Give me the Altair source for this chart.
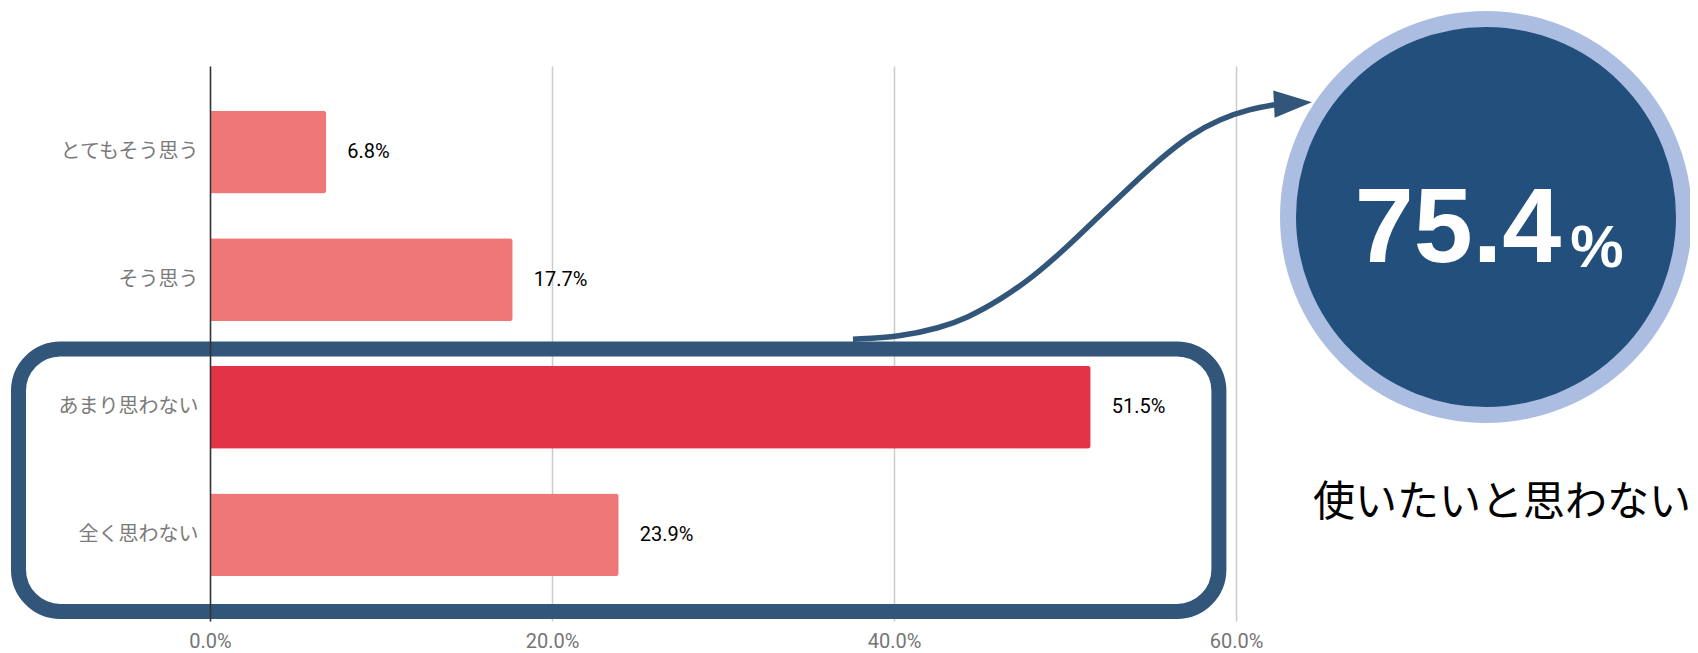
import altair as alt
import pandas as pd

# ---------------- data ----------------
categories = ["とてもそう思う", "そう思う", "あまり思わない", "全く思わない"]
values = [6.8, 17.7, 51.5, 23.9]
highlight = [False, False, True, False]
x_ticks = [0, 20, 40, 60]

summary_value = "75.4"
summary_unit = "%"
summary_caption = "使いたいと思わない"

# annotation anchors, in data units: x in percent, y in "rows" (0 = centre of first category)
box_x = [-11.2, 59.0]
box_y = [1.543, 3.60]
circle_x, circle_y = 74.62, 0.5085
value_x, value_y = 72.98, 0.859
unit_x, unit_y = 81.11, 0.900
caption_x, caption_y = 64.5, 2.750
arrow_x = [37.60, 40.35, 42.69, 44.27, 46.20, 48.13, 50.12, 52.05, 53.98, 55.56, 57.31, 59.06, 60.82, 62.34]
arrow_y = [1.466, 1.447, 1.378, 1.300, 1.159, 0.979, 0.744, 0.493, 0.250, 0.054, -0.134, -0.260, -0.338, -0.373]
head_x, head_y = 63.33, -0.384

# ---------------- styles ----------------
NAVY = "#32557a"
W, H = 1026, 555

x_scale = alt.Scale(domain=[0, 60], nice=False, zero=True)
x_axis = alt.Axis(
    title=None, values=x_ticks, labelExpr="format(datum.value, '.1f') + '%'",
    grid=True, gridColor="#cccccc", gridWidth=1.5, domain=False, ticks=False,
    labelFont="Roboto", labelFontSize=20, labelColor="#757575", labelPadding=10,
    labelFlush=False,
)


def xq(field):
    return alt.X(field, type="quantitative", scale=x_scale, axis=x_axis)


row_scale = alt.Scale(domain=[-0.675, 3.675], reverse=True, nice=False, zero=False)


def yq(field):
    return alt.Y(field, type="quantitative", scale=row_scale, axis=None)


bars_df = pd.DataFrame({
    "cat": categories,
    "value": values,
    "label": [f"{v:.1f}%" for v in values],
    "hl": ["hi" if h else "lo" for h in highlight],
})

y_band = alt.Y(
    "cat:N", sort=categories,
    scale=alt.Scale(paddingInner=0.35, paddingOuter=0.35),
    axis=alt.Axis(
        title=None, ticks=False, labelPadding=12, labelFont="Noto Sans CJK JP",
        labelFontSize=20, labelColor="#7a7a7a", domainColor="#333333",
        domainWidth=1.5, grid=False, labelLimit=400, zindex=1,
    ),
)

bars = alt.Chart(bars_df).mark_bar(cornerRadiusEnd=3).encode(
    x=xq("value"),
    y=y_band,
    color=alt.Color("hl:N", scale=alt.Scale(domain=["lo", "hi"], range=["#f07777", "#e33346"]), legend=None),
)
bar_labels = alt.Chart(bars_df).mark_text(
    align="left", baseline="middle", dx=21, font="Roboto", fontSize=20, color="#000000"
).encode(x=xq("value"), y=y_band, text="label:N")

bar_layer = alt.layer(bars, bar_labels)

box_df = pd.DataFrame({"x": [box_x[0]], "x2": [box_x[1]], "y": [box_y[0]], "y2": [box_y[1]]})
box = alt.Chart(box_df).mark_rect(
    fillOpacity=0, stroke=NAVY, strokeWidth=15, cornerRadius=42
).encode(x=xq("x"), x2="x2:Q", y=yq("y"), y2="y2:Q")

arrow_df = pd.DataFrame({"x": arrow_x, "y": arrow_y, "i": list(range(len(arrow_x)))})
arrow = alt.Chart(arrow_df).mark_line(
    interpolate="basis", strokeWidth=5.5, color=NAVY, strokeCap="butt"
).encode(x=xq("x"), y=yq("y"), order="i:Q")

head_df = pd.DataFrame({"x": [head_x], "y": [head_y]})
head = alt.Chart(head_df).mark_point(
    shape="M-1,-0.72L1,0L-1,0.72Z", filled=True, size=1444, angle=357,
    color=NAVY, opacity=1
).encode(x=xq("x"), y=yq("y"))

circ_df = pd.DataFrame({"x": [circle_x], "y": [circle_y]})
circle = alt.Chart(circ_df).mark_point(
    shape="circle", filled=True, fill="#234f7c", stroke="#abbee1",
    strokeWidth=16, size=396 ** 2, opacity=1, fillOpacity=1, strokeOpacity=1
).encode(x=xq("x"), y=yq("y"))

val_df = pd.DataFrame({"x": [value_x], "y": [value_y], "t": [summary_value]})
val_text = alt.Chart(val_df).mark_text(
    font="Liberation Sans", fontWeight="bold", fontSize=106, color="#ffffff",
    align="center", baseline="alphabetic"
).encode(x=xq("x"), y=yq("y"), text="t:N")

unit_df = pd.DataFrame({"x": [unit_x], "y": [unit_y], "t": [summary_unit]})
unit_text = alt.Chart(unit_df).mark_text(
    font="Liberation Sans", fontWeight="bold", fontSize=60, color="#ffffff",
    align="center", baseline="alphabetic"
).encode(x=xq("x"), y=yq("y"), text="t:N")

cap_df = pd.DataFrame({"x": [caption_x], "y": [caption_y], "t": [summary_caption]})
cap_text = alt.Chart(cap_df).mark_text(
    font="Noto Sans CJK JP", fontSize=42, color="#000000",
    align="left", baseline="middle"
).encode(x=xq("x"), y=yq("y"), text="t:N")

anno_layer = alt.layer(box, arrow, head, circle, val_text, unit_text, cap_text)

chart = alt.layer(bar_layer, anno_layer).resolve_scale(y="independent").properties(
    width=W, height=H,
    padding={"left": 202, "top": 58, "right": 454, "bottom": 32},
    autosize=alt.AutoSizeParams(type="none"),
    background="#ffffff",
).configure_view(strokeWidth=0, stroke="transparent")

chart.save("out.html", embed_options={"renderer": "svg", "actions": False})
